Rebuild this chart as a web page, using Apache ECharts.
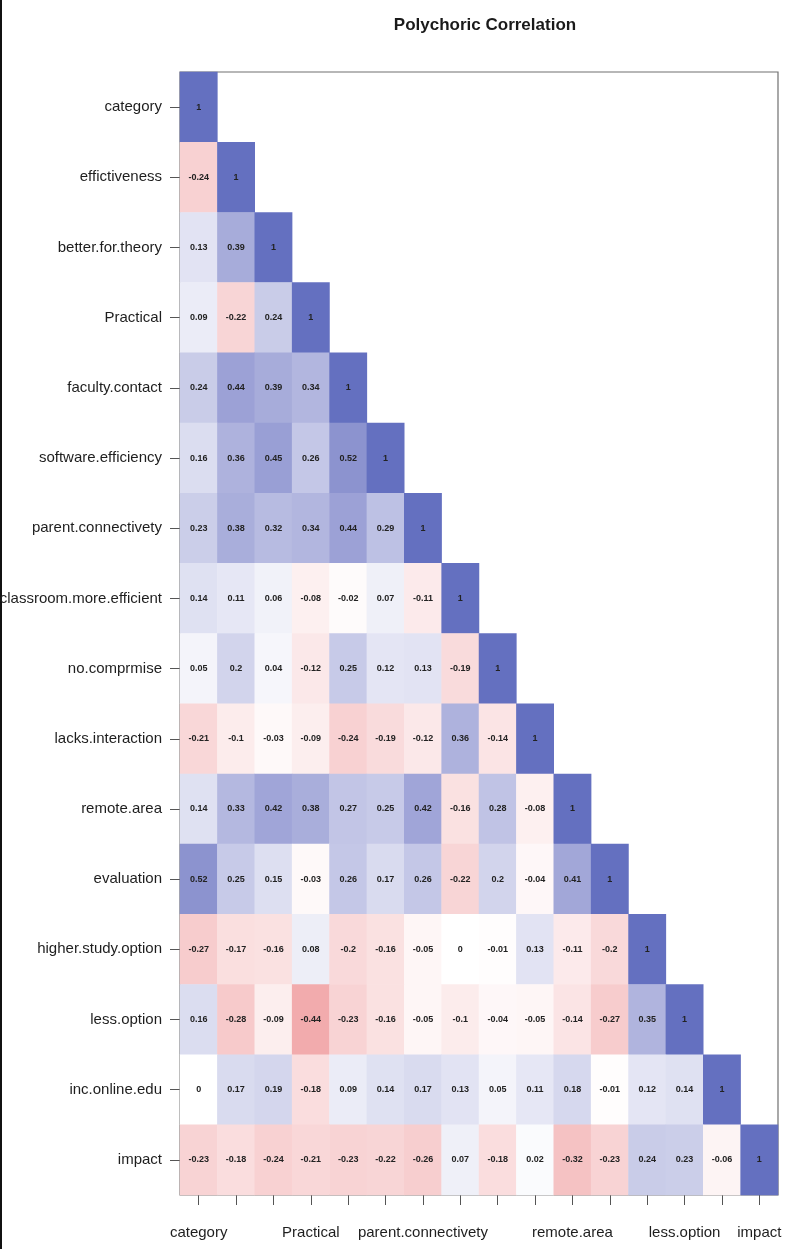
<!DOCTYPE html>
<html>
<head>
<meta charset="utf-8">
<script src="https://cdn.jsdelivr.net/npm/echarts@6/dist/echarts.min.js"></script>
<style>
  html, body { margin: 0; padding: 0; background: #fff; }
  #chart { width: 788px; height: 1249px; }
</style>
</head>
<body>
<div id="chart"></div>
<script>
// Survey items, in matrix order (top to bottom, left to right)
const variables = [
  'category', 'effictiveness', 'better.for.theory', 'Practical',
  'faculty.contact', 'software.efficiency', 'parent.connectivety',
  'classroom.more.efficient', 'no.comprmise', 'lacks.interaction',
  'remote.area', 'evaluation', 'higher.study.option', 'less.option',
  'inc.online.edu', 'impact'
];

// Lower triangle of the polychoric correlation matrix (row i holds columns 0..i)
const corrRows = [
  [1],
  [-0.24, 1],
  [0.13, 0.39, 1],
  [0.09, -0.22, 0.24, 1],
  [0.24, 0.44, 0.39, 0.34, 1],
  [0.16, 0.36, 0.45, 0.26, 0.52, 1],
  [0.23, 0.38, 0.32, 0.34, 0.44, 0.29, 1],
  [0.14, 0.11, 0.06, -0.08, -0.02, 0.07, -0.11, 1],
  [0.05, 0.2, 0.04, -0.12, 0.25, 0.12, 0.13, -0.19, 1],
  [-0.21, -0.1, -0.03, -0.09, -0.24, -0.19, -0.12, 0.36, -0.14, 1],
  [0.14, 0.33, 0.42, 0.38, 0.27, 0.25, 0.42, -0.16, 0.28, -0.08, 1],
  [0.52, 0.25, 0.15, -0.03, 0.26, 0.17, 0.26, -0.22, 0.2, -0.04, 0.41, 1],
  [-0.27, -0.17, -0.16, 0.08, -0.2, -0.16, -0.05, 0, -0.01, 0.13, -0.11, -0.2, 1],
  [0.16, -0.28, -0.09, -0.44, -0.23, -0.16, -0.05, -0.1, -0.04, -0.05, -0.14, -0.27, 0.35, 1],
  [0, 0.17, 0.19, -0.18, 0.09, 0.14, 0.17, 0.13, 0.05, 0.11, 0.18, -0.01, 0.12, 0.14, 1],
  [-0.23, -0.18, -0.24, -0.21, -0.23, -0.22, -0.26, 0.07, -0.18, 0.02, -0.32, -0.23, 0.24, 0.23, -0.06, 1]
];

// Bottom axis only labels these columns (the rest would overlap)
const bottomLabelIdx = [0, 3, 6, 10, 13, 15];

// Diverging scale: negative = red, zero = white, positive = blue
const scaleColors = ['#dc5c60', '#f0a0a2', '#ffffff', '#8e94d0', '#6470c0'];

const cells = [];
corrRows.forEach((row, i) => {
  row.forEach((v, j) => cells.push([j, i, v]));
});

const FONT = '"Liberation Sans", Arial, Helvetica, sans-serif';

const chart = echarts.init(document.getElementById('chart'), null, { renderer: 'canvas' });

chart.setOption({
  animation: false,
  backgroundColor: '#ffffff',
  title: {
    text: 'Polychoric Correlation',
    left: 480,
    top: 12,
    textAlign: 'center',
    textStyle: { fontFamily: FONT, fontSize: 17, fontWeight: 'bold', color: '#1a1a1a' }
  },
  grid: {
    left: 180, top: 72, right: 10, bottom: 54,
    containLabel: false,
    outerBoundsMode: 'none',
    show: true, borderColor: '#707070', borderWidth: 1.2, backgroundColor: 'transparent'
  },
  xAxis: {
    type: 'category',
    data: variables,
    position: 'bottom',
    axisLine: { show: false },
    axisTick: { show: true, interval: 0, alignWithLabel: true, length: 10, lineStyle: { color: '#555' } },
    axisLabel: {
      interval: (idx) => bottomLabelIdx.includes(idx),
      margin: 30,
      fontFamily: FONT, fontSize: 15, color: '#1e1e1e'
    }
  },
  yAxis: {
    type: 'category',
    data: variables,
    inverse: true,
    axisLine: { show: false },
    axisTick: { show: true, interval: 0, alignWithLabel: true, length: 10, lineStyle: { color: '#555' } },
    axisLabel: {
      interval: 0,
      margin: 18,
      fontFamily: FONT, fontSize: 15, color: '#1e1e1e'
    }
  },
  visualMap: {
    show: false,
    type: 'continuous',
    min: -1,
    max: 1,
    dimension: 2,
    inRange: { color: scaleColors }
  },
  series: [{
    type: 'heatmap',
    data: cells,
    itemStyle: { borderWidth: 0 },
    label: {
      show: true,
      formatter: (p) => String(p.value[2]),
      fontFamily: FONT, fontSize: 9, fontWeight: 'bold', color: '#222'
    },
    emphasis: { disabled: true }
  }],
  graphic: [{
    type: 'rect',
    shape: { x: 0, y: 0, width: 2, height: 1249 },
    style: { fill: '#111' },
    silent: true
  }]
});
</script>
</body>
</html>
